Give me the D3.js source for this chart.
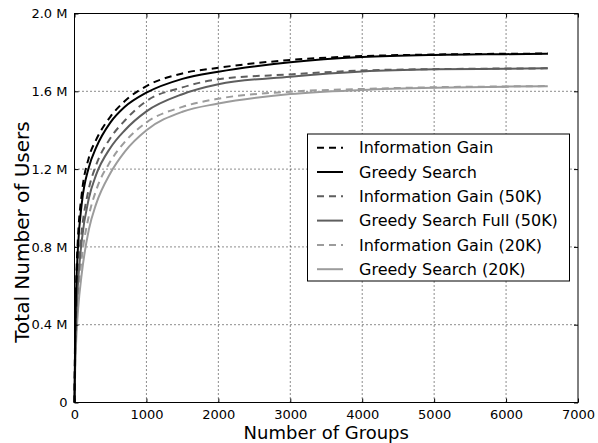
<!DOCTYPE html>
<html>
<head>
<meta charset="utf-8">
<script src="https://cdn.jsdelivr.net/npm/d3@7"></script>
<style>
  html, body { margin: 0; padding: 0; background: #fff; }
  svg { display: block; font-family: "DejaVu Sans", sans-serif; }
</style>
</head>
<body>
<svg id="chart" width="598" height="443"></svg>
<script>
// ---- data (values in millions of users) ----
const groups = [0, 10, 25, 50, 100, 200, 300, 500, 700, 1000, 1500, 2000, 3000, 4000, 5000, 6000, 6580];
const infoGain      = [0, 0.40, 0.64, 0.86, 1.07, 1.26, 1.35, 1.47, 1.55, 1.627, 1.692, 1.721, 1.761, 1.781, 1.789, 1.793, 1.794];
const greedy        = [0, 0.36, 0.60, 0.81, 1.02, 1.21, 1.31, 1.44, 1.52, 1.593, 1.664, 1.701, 1.749, 1.776, 1.787, 1.791, 1.793];
const infoGain50    = [0, 0.30, 0.50, 0.68, 0.88, 1.10, 1.22, 1.36, 1.45, 1.550, 1.620, 1.662, 1.687, 1.707, 1.714, 1.717, 1.718];
const greedyFull50  = [0, 0.26, 0.45, 0.62, 0.83, 1.05, 1.17, 1.31, 1.40, 1.497, 1.585, 1.636, 1.675, 1.702, 1.713, 1.716, 1.718];
const infoGain20    = [0, 0.22, 0.38, 0.55, 0.74, 0.96, 1.09, 1.24, 1.34, 1.440, 1.520, 1.562, 1.598, 1.612, 1.621, 1.625, 1.627];
const greedy20      = [0, 0.18, 0.33, 0.48, 0.66, 0.89, 1.02, 1.18, 1.29, 1.400, 1.495, 1.537, 1.586, 1.607, 1.618, 1.624, 1.626];
const seriesNames = ["Information Gain", "Greedy Search", "Information Gain (50K)", "Greedy Search Full (50K)", "Information Gain (20K)", "Greedy Search (20K)"];
const seriesValues = [infoGain, greedy, infoGain50, greedyFull50, infoGain20, greedy20];
const xTicks = [0, 1000, 2000, 3000, 4000, 5000, 6000, 7000];
const yTicks = [0, 0.4, 0.8, 1.2, 1.6, 2.0];
const yTickLabels = ["0", "0.4 M", "0.8 M", "1.2 M", "1.6 M", "2.0 M"];

// ---- styles ----
const colors = ["#000000", "#000000", "#5e5e5e", "#5e5e5e", "#9c9c9c", "#9c9c9c"];
const dashes = ["7,5", null, "7,5", null, "7,5", null];

const L = 74.5, R = 578, T = 13.5, B = 402.5;
const svg = d3.select("#chart");
svg.append("rect").attr("width", 598).attr("height", 443).attr("fill", "#fff");

const x = d3.scaleLinear().domain([0, 7000]).range([L, R]);
const y = d3.scaleLinear().domain([0, 2.0]).range([B, T]);

// grid
const grid = svg.append("g").attr("stroke", "#000").attr("stroke-width", 0.9).attr("stroke-dasharray", "1,3");
grid.selectAll("line.vx").data(xTicks.slice(1, -1)).join("line")
  .attr("x1", d => x(d)).attr("x2", d => x(d)).attr("y1", T).attr("y2", B);
grid.selectAll("line.hy").data(yTicks.slice(1, -1)).join("line")
  .attr("x1", L).attr("x2", R).attr("y1", d => y(d)).attr("y2", d => y(d));

// curves
const line = d3.line().x((d, i) => x(groups[i])).y(d => y(d)).curve(d3.curveMonotoneX);
const order = [5, 4, 3, 2, 1, 0];
order.forEach(k => {
  svg.append("path")
    .datum(seriesValues[k])
    .attr("d", line)
    .attr("fill", "none")
    .attr("stroke", colors[k])
    .attr("stroke-width", 2)
    .attr("stroke-dasharray", dashes[k]);
});

// axes
const fmtY = d => yTickLabels[yTicks.indexOf(d)];
const xAxis = d3.axisBottom(x).tickValues(xTicks).tickSize(-4).tickPadding(7).tickFormat(d3.format("d"));
const yAxis = d3.axisLeft(y).tickValues(yTicks).tickSize(-4).tickPadding(7).tickFormat(fmtY);
const gx = svg.append("g").attr("transform", `translate(0,${B})`).call(xAxis);
const gy = svg.append("g").attr("transform", `translate(${L},0)`).call(yAxis);
const gt = svg.append("g").attr("transform", `translate(0,${T})`).call(d3.axisTop(x).tickValues(xTicks).tickSize(-4).tickFormat(""));
const gr = svg.append("g").attr("transform", `translate(${R},0)`).call(d3.axisRight(y).tickValues(yTicks).tickSize(-4).tickFormat(""));
[gx, gy, gt, gr].forEach(g => {
  g.select(".domain").remove();
  g.selectAll(".tick line").attr("stroke", "#000").attr("stroke-width", 1);
  g.selectAll(".tick text").attr("font-family", "DejaVu Sans, sans-serif").attr("font-size", 13).attr("fill", "#000");
});

// frame
svg.append("rect").attr("x", L).attr("y", T).attr("width", R - L).attr("height", B - T)
  .attr("fill", "none").attr("stroke", "#000").attr("stroke-width", 1);

// axis labels
svg.append("text").attr("x", (L + R) / 2).attr("y", 439).attr("text-anchor", "middle")
  .attr("font-size", 18).attr("fill", "#000").text("Number of Groups");
svg.append("text").attr("transform", `translate(29,232) rotate(-90)`).attr("text-anchor", "middle")
  .attr("font-size", 20).attr("fill", "#000").text("Total Number of Users");

// legend
const lg = svg.append("g");
lg.append("rect").attr("x", 307.5).attr("y", 134).attr("width", 262).attr("height", 147)
  .attr("fill", "#fff").attr("stroke", "#000").attr("stroke-width", 1);
const rowY = [147.7, 172, 196.3, 220.6, 244.9, 269.2];
seriesNames.forEach((name, k) => {
  lg.append("line").attr("x1", 317).attr("x2", 343).attr("y1", rowY[k]).attr("y2", rowY[k])
    .attr("stroke", colors[k]).attr("stroke-width", 2).attr("stroke-dasharray", dashes[k]);
  lg.append("text").attr("x", 359).attr("y", rowY[k]).attr("dy", "0.35em")
    .attr("font-size", 16).attr("fill", "#000").text(name);
});
</script>
</body>
</html>
